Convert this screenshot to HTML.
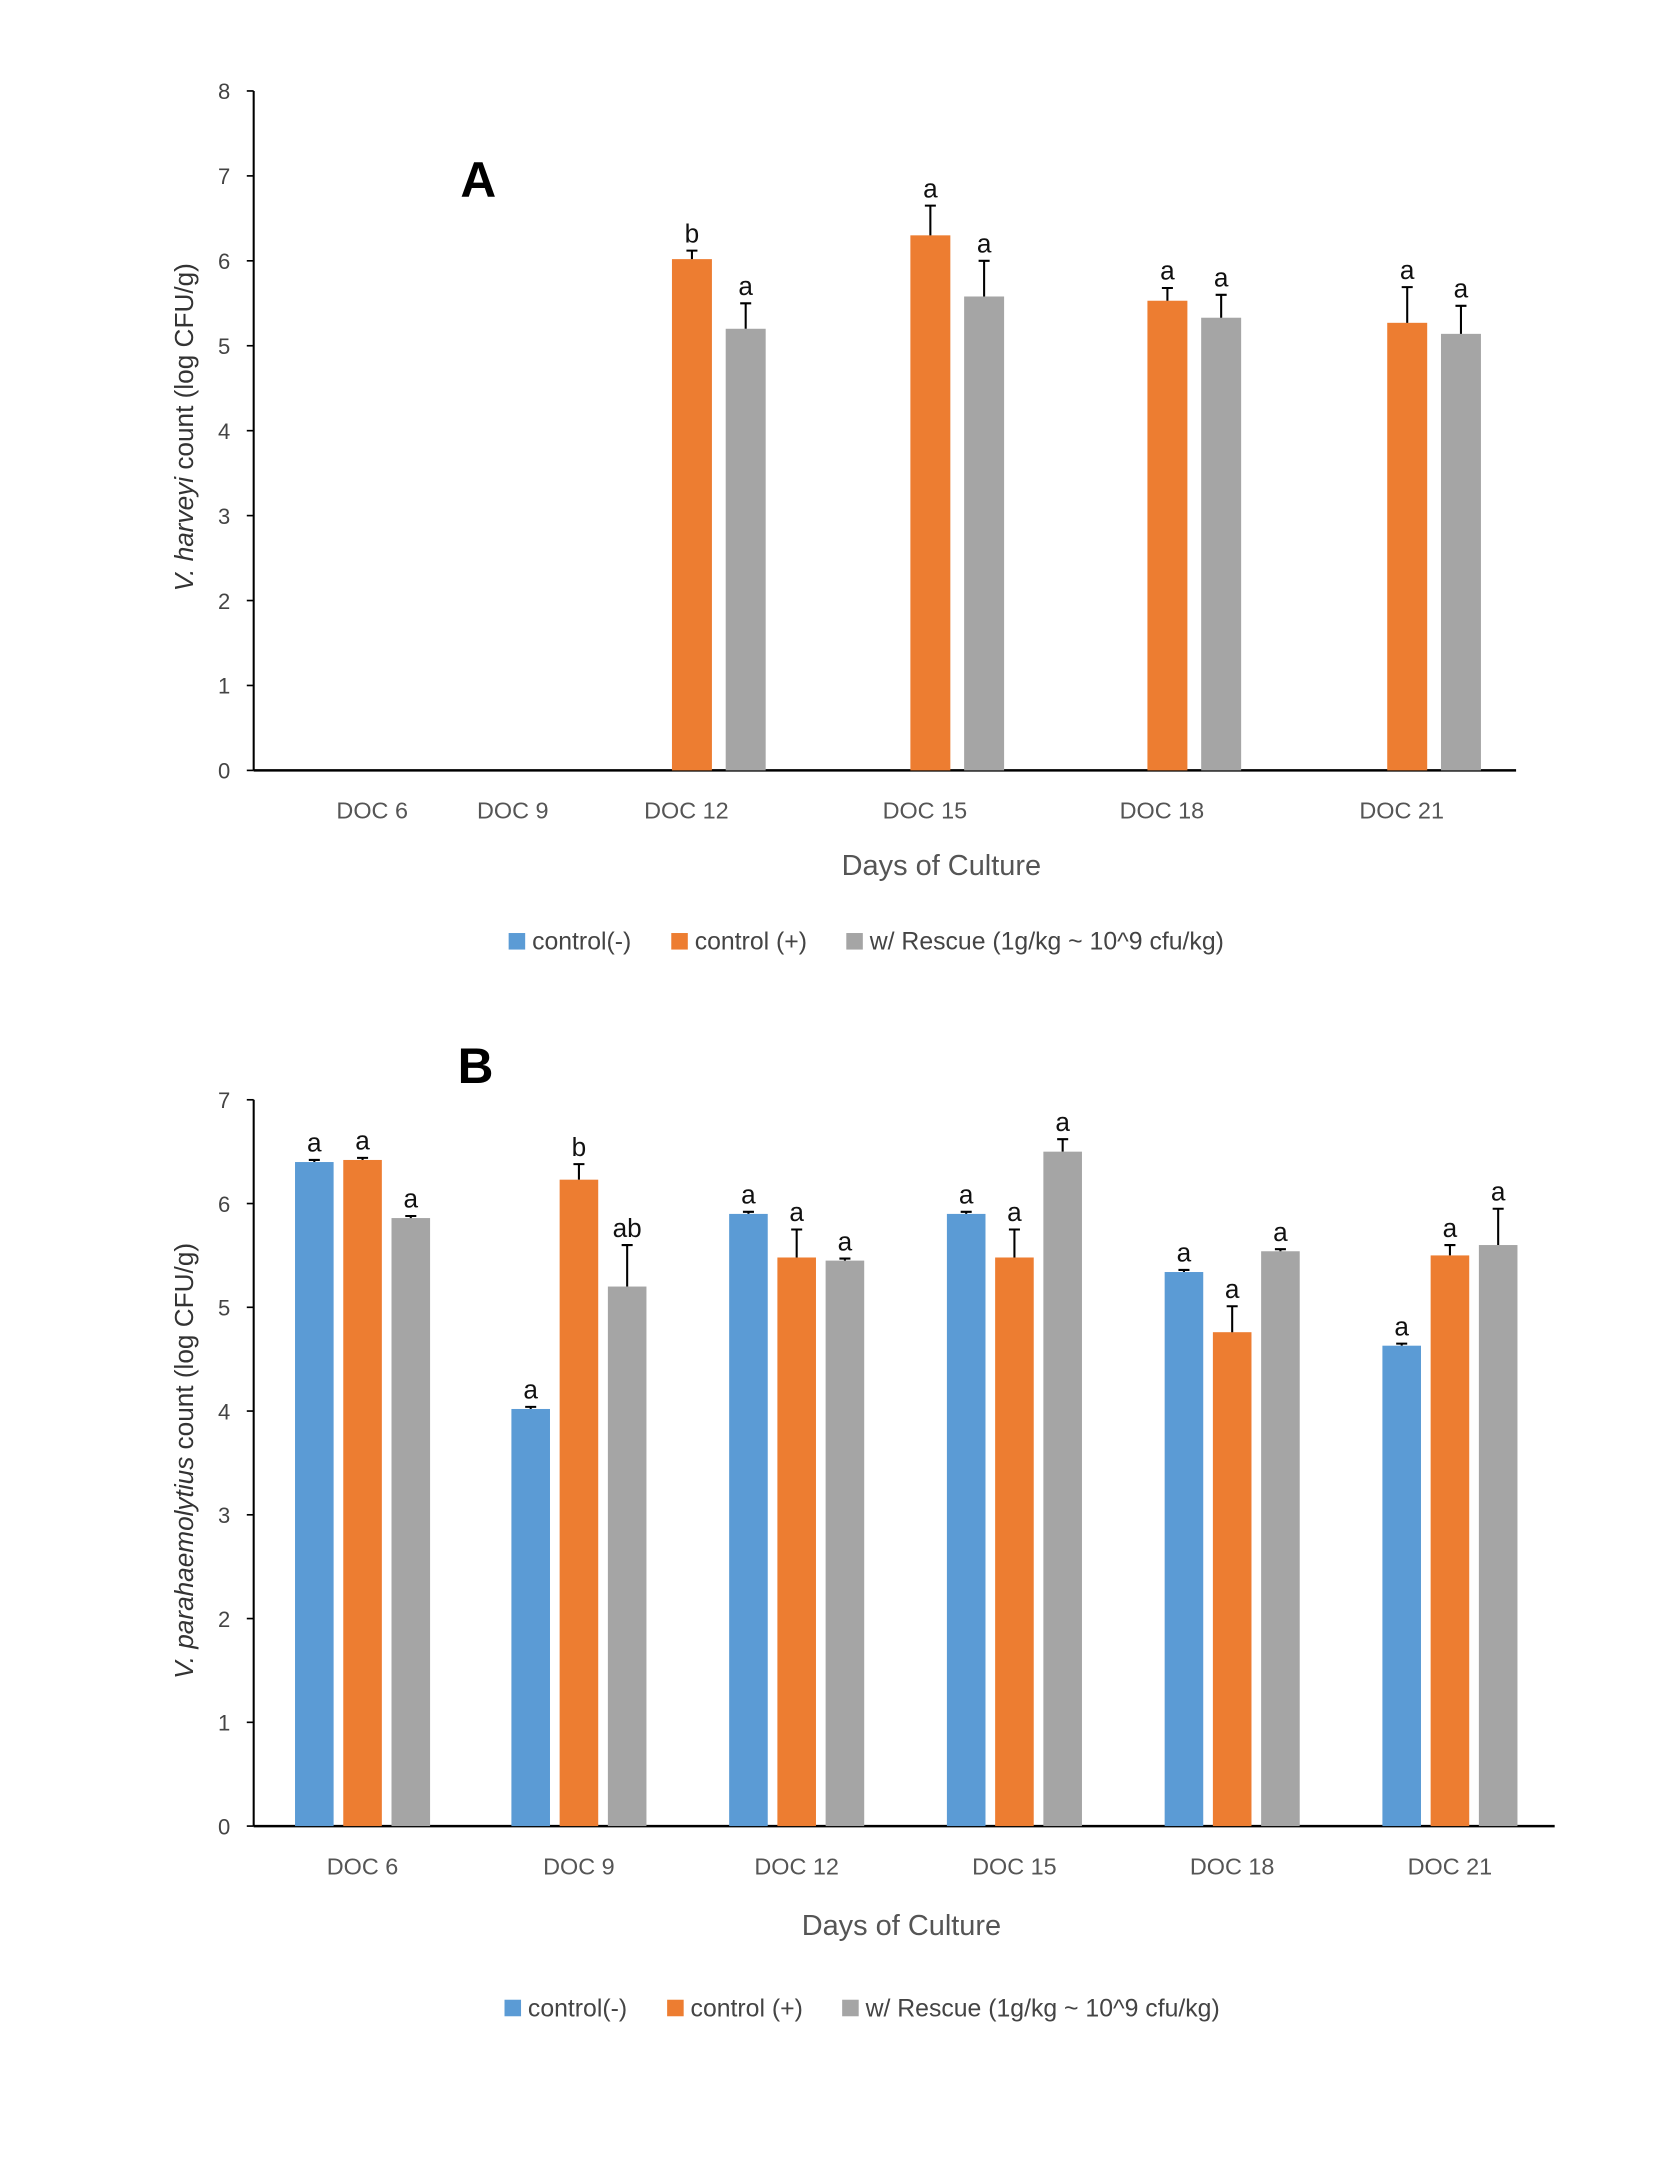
<!DOCTYPE html>
<html><head><meta charset="utf-8"><style>
html,body{margin:0;padding:0;background:#fff}
svg{display:block}
text{font-family:"Liberation Sans",sans-serif}
</style></head><body>
<svg id="fig" width="1654" height="2172" viewBox="0 0 1200 1576" xmlns="http://www.w3.org/2000/svg">
<g id="chartA"></g>
<g id="chartB"></g>
</svg>
<script>
// ---------- Chart A data ----------
const catsA = ["DOC 6","DOC 9","DOC 12","DOC 15","DOC 18","DOC 21"];
const aCtrlPos = [null,null,6.02,6.3,5.53,5.27];
const aCtrlPosErr = [0,0,0.1,0.35,0.15,0.42];
const aRescue = [null,null,5.2,5.58,5.33,5.14];
const aRescueErr = [0,0,0.3,0.42,0.27,0.33];
const aLetPos = ["","","b","a","a","a"];
const aLetRes = ["","","a","a","a","a"];
const ticksA = [0,1,2,3,4,5,6,7,8];
// ---------- Chart B data ----------
const catsB = ["DOC 6","DOC 9","DOC 12","DOC 15","DOC 18","DOC 21"];
const bCtrlNeg = [6.4,4.02,5.9,5.9,5.34,4.63];
const bCtrlNegErr = [0.02,0.02,0.02,0.02,0.02,0.02];
const bCtrlPos = [6.42,6.23,5.48,5.48,4.76,5.5];
const bCtrlPosErr = [0.02,0.15,0.27,0.27,0.25,0.1];
const bRescue = [5.86,5.2,5.45,6.5,5.54,5.6];
const bRescueErr = [0.02,0.4,0.02,0.12,0.02,0.35];
const bLetNeg = ["a","a","a","a","a","a"];
const bLetPos = ["a","b","a","a","a","a"];
const bLetRes = ["a","ab","a","a","a","a"];
const ticksB = [0,1,2,3,4,5,6,7];

const NS="http://www.w3.org/2000/svg";
function mk(parent,tag,attrs,txt){const e=document.createElementNS(NS,tag);for(const k in attrs)e.setAttribute(k,attrs[k]);if(txt!==undefined)e.textContent=txt;parent.appendChild(e);return e;}
const BLUE="#5b9bd5",ORANGE="#ed7d31",GRAY="#a5a5a5";

function drawChart(g,cfg){
  const y=v=>cfg.y0-(v/cfg.max)*(cfg.y0-cfg.yTop);
  let e=mk(g,"line",{x1:cfg.ax,y1:cfg.yTop,x2:cfg.ax,y2:cfg.y0,stroke:"#000","stroke-width":1.5});
  
  e=mk(g,"line",{x1:cfg.ax,y1:cfg.y0,x2:cfg.axEnd,y2:cfg.y0,stroke:"#000","stroke-width":1.8});
  
  cfg.ticks.forEach(t=>{
    const l=mk(g,"line",{x1:cfg.ax-5,y1:y(t),x2:cfg.ax,y2:y(t),stroke:"#000","stroke-width":1.2});
    
    const tx=mk(g,"text",{x:cfg.ax-17,y:y(t)+6,"text-anchor":"end","font-size":16,fill:"#444"},String(t));
    
  });
  cfg.cats.forEach((c,i)=>{
    const tx=mk(g,"text",{x:cfg.labelCenters[i],y:cfg.y0+35,"text-anchor":"middle","font-size":17,fill:"#555"},c);
    
  });
  cfg.series.forEach(s=>{
    s.vals.forEach((v,i)=>{
      if(v===null)return;
      const x=cfg.centers[i]+s.off-cfg.bw/2;
      const r=mk(g,"rect",{x:x,y:y(v),width:cfg.bw,height:cfg.y0-y(v),fill:s.color});
      
      const cx=cfg.centers[i]+s.off, top=y(v+s.err[i]);
      const el=mk(g,"path",{d:`M${cx} ${y(v)} V${top} M${cx-4} ${top} H${cx+4}`,stroke:"#000","stroke-width":1.5,fill:"none"});
      
      const lt=mk(g,"text",{x:cx,y:top-6,"text-anchor":"middle","font-size":19,fill:"#111"},s.lets[i]);
      
    });
  });
  let t=mk(g,"text",{x:cfg.panelX,y:cfg.panelY,"font-size":36,"font-weight":"bold",fill:"#000"},cfg.panel);
  
  t=mk(g,"text",{x:cfg.xtX,y:cfg.xtY,"text-anchor":"middle","font-size":21,fill:"#555"},"Days of Culture");
  
  t=mk(g,"text",{x:0,y:0,"text-anchor":"middle","font-size":19,fill:"#333",transform:`translate(${cfg.ytX},${cfg.ytY}) rotate(-90)`});
  
  mk(t,"tspan",{"font-style":"italic"},cfg.ytItal);mk(t,"tspan",{}," count (log CFU/g)");
  const lg=mk(g,"g",{});
  
  const items=[["control(-)",BLUE],["control (+)",ORANGE],["w/ Rescue (1g/kg ~ 10^9 cfu/kg)",GRAY]];
  let lx=cfg.legX;
  items.forEach(([lab,col],k)=>{
    const r=mk(lg,"rect",{x:lx,y:cfg.legY-12,width:12,height:12,fill:col});
    
    const tt=mk(lg,"text",{x:lx+17,y:cfg.legY,"font-size":18,fill:"#444"},lab);
    
    lx+=17+[90,99,0][k]+11;
  });
}

drawChart(document.getElementById("chartA"),{
  ax:184,axEnd:1100,y0:559,yTop:66,max:8,ticks:ticksA,cats:catsA,
  centers:[270,372,498,671,843,1017],labelCenters:[270,372,498,671,843,1017],bw:29,
  series:[{name:"control-pos",vals:aCtrlPos,err:aCtrlPosErr,lets:aLetPos,color:ORANGE,off:4},
          {name:"rescue",vals:aRescue,err:aRescueErr,lets:aLetRes,color:GRAY,off:43}],
  panel:"A",panelX:334,panelY:143,xtX:683,xtY:635,ytX:140,ytY:310,ytItal:"V. harveyi",
  legX:369,legY:689});
drawChart(document.getElementById("chartB"),{
  ax:184,axEnd:1128,y0:1325,yTop:798,max:7,ticks:ticksB,cats:catsB,
  centers:[260,417,575,733,891,1049],labelCenters:[263,420,578,736,894,1052],bw:28,
  series:[{name:"control-neg",vals:bCtrlNeg,err:bCtrlNegErr,lets:bLetNeg,color:BLUE,off:-32},
          {name:"control-pos",vals:bCtrlPos,err:bCtrlPosErr,lets:bLetPos,color:ORANGE,off:3},
          {name:"rescue",vals:bRescue,err:bRescueErr,lets:bLetRes,color:GRAY,off:38}],
  panel:"B",panelX:332,panelY:786,xtX:654,xtY:1404,ytX:140,ytY:1060,ytItal:"V. parahaemolytius",
  legX:366,legY:1463});
</script>
</body></html>
